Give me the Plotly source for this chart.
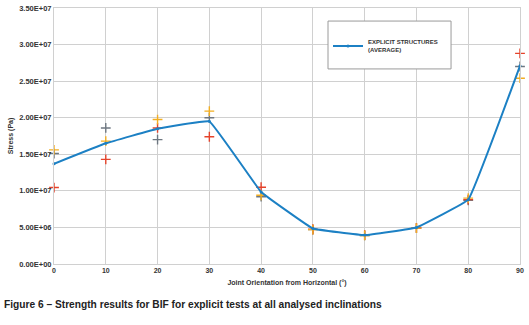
import plotly.graph_objects as go

angles = [0, 10, 20, 30, 40, 50, 60, 70, 80, 90]
average = [1.37e7, 1.65e7, 1.85e7, 1.95e7, 0.985e7, 0.486e7, 0.395e7, 0.50e7, 0.88e7, 2.71e7]
test_orange = [1.56e7, 1.68e7, 1.975e7, 2.09e7, 0.94e7, 0.47e7, 0.39e7, 0.49e7, 0.90e7, 2.54e7]
test_red = [1.045e7, 1.43e7, 1.86e7, 1.74e7, 1.05e7, 0.475e7, 0.395e7, 0.495e7, 0.88e7, 2.88e7]
test_gray = [1.51e7, 1.86e7, 1.70e7, 2.00e7, 0.92e7, 0.47e7, 0.39e7, 0.49e7, 0.87e7, 2.70e7]

y_ticks = [0, 5e6, 1e7, 1.5e7, 2e7, 2.5e7, 3e7, 3.5e7]
y_tick_labels = ["0.00E+00", "5.00E+06", "1.00E+07", "1.50E+07", "2.00E+07", "2.50E+07", "3.00E+07", "3.50E+07"]

fig = go.Figure()

for vals, col in [(test_gray, "#6E7781"), (test_red, "#E5432B"), (test_orange, "#F2AE22")]:
    fig.add_trace(go.Scatter(
        x=angles, y=vals, mode="markers", showlegend=False, cliponaxis=False,
        marker=dict(symbol="cross-thin", size=7, line=dict(color=col, width=1.4)),
    ))

fig.add_trace(go.Scatter(
    x=angles, y=average, mode="lines+markers", name="<b>EXPLICIT STRUCTURES<br>(AVERAGE)</b>",
    cliponaxis=False,
    line=dict(color="#1C80C4", width=2, shape="spline", smoothing=0.2),
    marker=dict(size=3, color="#1C80C4"),
))

fig.update_layout(
    width=529, height=325,
    margin=dict(l=54, r=9, t=8, b=61),
    paper_bgcolor="white", plot_bgcolor="white",
    font=dict(family="Liberation Sans", color="#333333"),
    legend=dict(
        x=0.588, y=0.852, xanchor="left", yanchor="middle",
        borderwidth=0, bgcolor="rgba(0,0,0,0)",
        font=dict(size=6, family="Liberation Sans", color="#333333"),
        itemwidth=30,
    ),
    xaxis=dict(
        range=[-0.001, 90.001], tickvals=angles, ticktext=[f"<b>{a}</b>" for a in angles],
        showgrid=True, gridcolor="#d0d0d0", gridwidth=1,
        zeroline=False, showline=True, mirror=True, linecolor="#d0d0d0", ticks="",
        tickfont=dict(size=7, color="#333333"), automargin=False,
        title=dict(text="<b>Joint Orientation from Horizontal (°)</b>", font=dict(size=7, color="#333333"), standoff=6),
    ),
    yaxis=dict(
        range=[0, 3.5e7], tickvals=y_ticks, ticktext=[f"<b>{t}</b>" for t in y_tick_labels],
        showgrid=True, gridcolor="#d0d0d0", gridwidth=1,
        zeroline=False, showline=True, mirror=True, linecolor="#d0d0d0", ticks="",
        tickfont=dict(size=7.5, color="#333333"), automargin=False,
        title=dict(text="<b>Stress (Pa)</b>", font=dict(size=7, color="#333333"), standoff=4),
    ),
    shapes=[dict(
        type="rect", xref="paper", yref="paper",
        x0=0.588, x1=0.852, y0=0.762, y1=0.949,
        line=dict(color="#9a9a9a", width=1), fillcolor="white", layer="above",
    )],
)

fig.add_annotation(
    text="<b>Figure 6 – Strength results for BIF for explicit tests at all analysed inclinations</b>",
    xref="paper", yref="paper", x=-0.1116, y=-0.16, xanchor="left", yanchor="middle",
    showarrow=False, font=dict(size=10.2, family="Liberation Sans", color="#222222"),
)

fig.write_html("out.html", post_script="document.body.style.margin='0';",
               config={"displayModeBar": False})
